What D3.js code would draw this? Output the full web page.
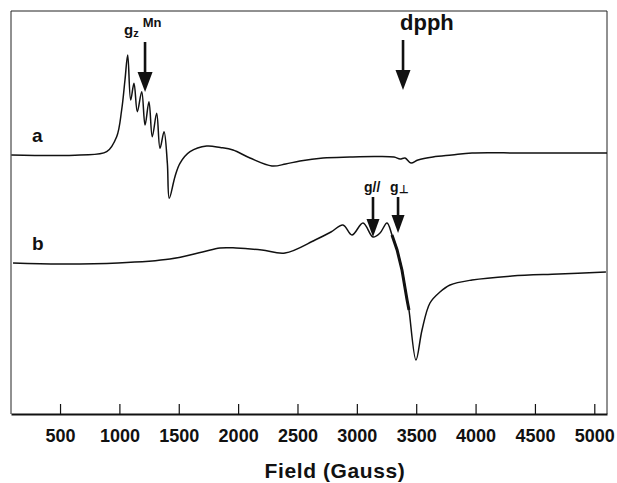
<!DOCTYPE html>
<html>
<head>
<meta charset="utf-8">
<script src="https://cdn.jsdelivr.net/npm/d3@7"></script>
<style>
  body { margin: 0; background: #fff; }
  svg { display: block; font-family: "Liberation Sans", Arial, sans-serif; }
</style>
</head>
<body>
<div id="chart"></div>
<script>
const width = 617;
const height = 483;

// tick labels on the field axis (Gauss)
const fieldTicks = [500, 1000, 1500, 2000, 2500, 3000, 3500, 4000, 4500, 5000];

// trace a : field (G) and derivative signal (a.u., relative to its baseline)
const fieldA = [90, 668, 893, 977, 1019, 1047, 1070, 1095, 1123, 1151, 1188, 1216, 1249, 1277, 1314, 1342, 1376,
  1404, 1420, 1468, 1510, 1595, 1735, 1850, 1957, 2100, 2285, 2400, 2521, 2715, 2942, 3150, 3313, 3364, 3406,
  3456, 3515, 3641, 3800, 3970, 4400, 5107];
const signalA = [0, 0, 3.3, 18.3, 45, 75, 100, 55, 71.7, 43.3, 63.3, 30, 53.3, 18.3, 41.7, 6.7, 23.3,
  -8.3, -43.3, -21.7, -8.3, 3.3, 9, 7.5, 5, -3, -11, -9, -6, -3, -2, -1.5, -2, -4, -3,
  -8, -5, -2, 0, 2, 2, 2];

// trace b
const fieldB = [104, 500, 988, 1426, 1700, 1847, 1982, 2200, 2395, 2648, 2782, 2883, 2959, 3052, 3136, 3195,
  3254, 3296, 3339, 3380, 3423, 3439, 3498, 3549, 3616, 3700, 3785, 3970, 4306, 4700, 5098];
const signalB = [0, -1, 0, 4, 11, 15, 15, 13, 10, 23, 31, 38, 28, 40, 26, 30,
  40, 28, 13, -7, -37, -47, -97, -67, -40, -29, -22, -17, -13, -11, -9];

const offsetA = 259;   // baseline of trace a
const offsetB = 151;   // baseline of trace b
const traceLabels = ["a", "b"];

// annotation arrows: field position, arrow top and tip (a.u.)
const arrowField = [1216, 3389, 3136, 3347];
const arrowTop = [372, 374, 217, 217];
const arrowTip = [322, 324, 177, 181];

const x = d3.scaleLinear().domain([87, 5107]).range([11, 607]);
const y = d3.scaleLinear().domain([0, 403]).range([414, 11]);

const svg = d3.select("#chart").append("svg")
  .attr("width", width)
  .attr("height", height);

// frame
svg.append("line").attr("x1", 11).attr("x2", 607).attr("y1", 11).attr("y2", 11)
  .attr("stroke", "#222").attr("stroke-width", 1);
svg.append("line").attr("x1", 11).attr("x2", 11).attr("y1", 11).attr("y2", 414)
  .attr("stroke", "#222").attr("stroke-width", 1);
svg.append("line").attr("x1", 607).attr("x2", 607).attr("y1", 11).attr("y2", 414)
  .attr("stroke", "#222").attr("stroke-width", 1);

// bottom axis with inward ticks
const xAxis = d3.axisBottom(x)
  .tickValues(fieldTicks)
  .tickFormat(d3.format("d"))
  .tickSizeInner(-10)
  .tickSizeOuter(0)
  .tickPadding(15);
const gx = svg.append("g").attr("transform", "translate(0,414)").call(xAxis);
gx.select(".domain").attr("stroke", "#111").attr("stroke-width", 2);
gx.selectAll(".tick line").attr("stroke", "#111").attr("stroke-width", 1.2);
gx.selectAll(".tick text")
  .attr("fill", "#111")
  .attr("font-size", 18)
  .attr("font-weight", "bold")
  .attr("font-family", "'Liberation Sans', Arial, sans-serif");

svg.append("text")
  .attr("x", 335).attr("y", 478)
  .attr("text-anchor", "middle")
  .attr("font-size", 21)
  .attr("font-weight", "bold")
  .attr("letter-spacing", 0.6)
  .attr("fill", "#111")
  .text("Field (Gauss)");

// traces
const line = d3.line().curve(d3.curveCatmullRom.alpha(0.5));

const ptsA = fieldA.map((f, i) => [x(f), y(offsetA + signalA[i])]);
const ptsB = fieldB.map((f, i) => [x(f), y(offsetB + signalB[i])]);

svg.append("path").attr("d", line(ptsA))
  .attr("fill", "none").attr("stroke", "#111").attr("stroke-width", 1.5);
svg.append("path").attr("d", line(ptsB))
  .attr("fill", "none").attr("stroke", "#111").attr("stroke-width", 1.5);

// noisy thick part of the steep descent of trace b
const steep = ptsB.filter((p, i) => fieldB[i] >= 3296 && fieldB[i] <= 3439);
svg.append("path").attr("d", d3.line()(steep))
  .attr("fill", "none").attr("stroke", "#111").attr("stroke-width", 3);

// trace labels
svg.selectAll(".trace-label")
  .data(traceLabels)
  .join("text")
  .attr("class", "trace-label")
  .attr("x", 32)
  .attr("y", (d, i) => y((i === 0 ? offsetA : offsetB) + 13))
  .attr("font-size", 19)
  .attr("font-weight", "bold")
  .attr("fill", "#111")
  .text(d => d);

// arrows
arrowField.forEach((f, i) => {
  const ax = x(f);
  const yt = y(arrowTop[i]);
  const yp = y(arrowTip[i]);
  const hw = i < 2 ? 7.5 : 6.5;
  const hh = i < 2 ? 20 : 18;
  svg.append("line").attr("x1", ax).attr("x2", ax).attr("y1", yt).attr("y2", yp - hh + 2)
    .attr("stroke", "#111").attr("stroke-width", 2.6);
  svg.append("path")
    .attr("d", `M${ax - hw},${yp - hh} L${ax + hw},${yp - hh} L${ax},${yp} Z`)
    .attr("fill", "#111");
});

// annotation texts
const gz = svg.append("text").attr("x", 124).attr("y", 35)
  .attr("font-weight", "bold").attr("fill", "#111");
gz.append("tspan").attr("font-size", 15).text("g");
gz.append("tspan").attr("font-size", 11).attr("dy", 2).text("z");
gz.append("tspan").attr("font-size", 13).attr("dx", 4).attr("dy", -10).text("Mn");

svg.append("text").attr("x", 400).attr("y", 30)
  .attr("font-size", 22).attr("font-weight", "bold").attr("fill", "#111")
  .text("dpph");

svg.append("text").attr("x", 364).attr("y", 192)
  .attr("font-size", 14).attr("font-weight", "bold").attr("fill", "#111")
  .text("g//");
const gp = svg.append("text").attr("x", 390).attr("y", 192)
  .attr("font-weight", "bold").attr("fill", "#111");
gp.append("tspan").attr("font-size", 14).text("g");
gp.append("tspan").attr("font-size", 11).attr("dy", 1).text("⊥");
</script>
</body>
</html>
